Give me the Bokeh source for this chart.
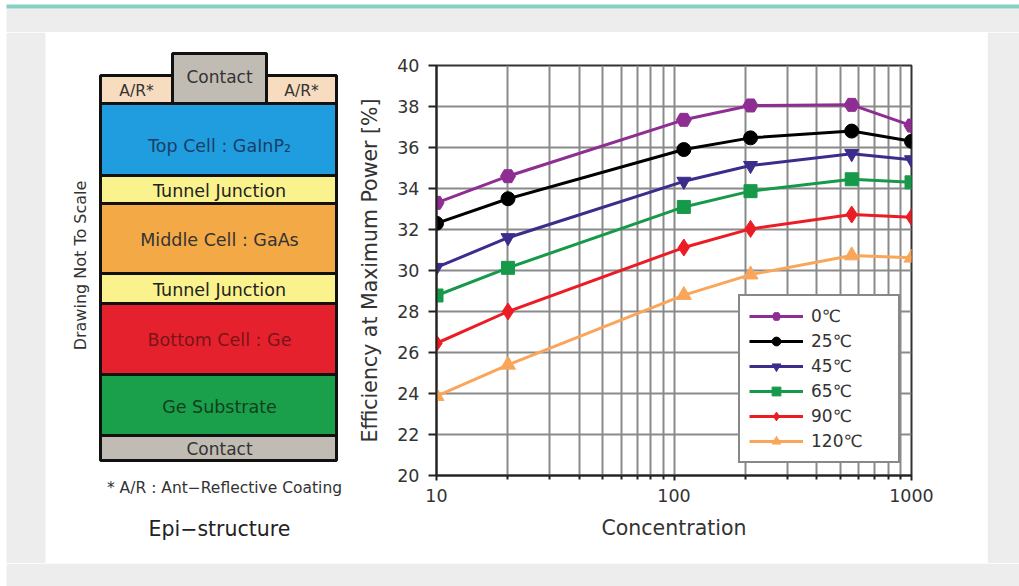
from bokeh.plotting import figure
from bokeh.models import Range1d, FixedTicker, PrintfTickFormatter, Legend, LegendItem
from bokeh.layouts import row, column
from bokeh.core.properties import value
from bokeh.embed import file_html
from bokeh.resources import INLINE
import math

# ---------------- data ----------------
concentration = [10, 20, 110, 210, 560, 1000]
temperatures = ["0℃", "25℃", "45℃", "65℃", "90℃", "120℃"]
eff_0 = [33.3, 34.6, 37.35, 38.05, 38.08, 37.07]
eff_25 = [32.3, 33.5, 35.9, 36.47, 36.8, 36.3]
eff_45 = [30.15, 31.6, 34.35, 35.12, 35.7, 35.4]
eff_65 = [28.78, 30.13, 33.1, 33.87, 34.45, 34.3]
eff_90 = [26.45, 28.0, 31.12, 32.03, 32.73, 32.6]
eff_120 = [23.87, 25.4, 28.8, 29.8, 30.73, 30.62]
series = [eff_0, eff_25, eff_45, eff_65, eff_90, eff_120]

x_ticks = [10, 100, 1000]
x_minor_ticks = [20, 30, 40, 50, 60, 70, 80, 90, 200, 300, 400, 500, 600, 700, 800, 900]
y_ticks = [20, 22, 24, 26, 28, 30, 32, 34, 36, 38, 40]

layer_labels = ["Contact", "A/R*", "A/R*", "Top Cell : GaInP₂", "Tunnel Junction",
                "Middle Cell : GaAs", "Tunnel Junction", "Bottom Cell : Ge",
                "Ge Substrate", "Contact"]

# ---------------- styles ----------------
FONT = "DejaVu Sans"
GRAY = "#EDEDED"
TEAL = "#86CFC1"
colors = ["#8E2E92", "#000000", "#3A2D8C", "#17994A", "#EC1C24", "#F9A65A"]
markers = ["hex", "circle", "inverted_triangle", "square", "diamond", "triangle"]
msizes = [15, 14, 14, 13, 17, 15]

layer_fill = ["#C1BCB3", "#F8DCBF", "#F8DCBF", "#1F9DDE", "#FAF28C", "#F4A947",
              "#FAF28C", "#E6212E", "#1AA04B", "#C1BCB3"]
layer_text_color = ["#333333", "#333333", "#333333", "#1B3E66", "#222222", "#333333",
                    "#222222", "#7A1418", "#123F1E", "#333333"]
layer_left = [172, 100, 266, 100, 100, 100, 100, 100, 100, 100]
layer_right = [266, 172, 336, 336, 336, 336, 336, 336, 336, 336]
layer_top = [53, 75, 75, 103, 175, 203, 273, 303, 374, 435]
layer_bottom = [103, 103, 103, 175, 203, 273, 303, 374, 435, 460]
text_x = [219, 136, 301, 219, 219, 219, 219, 219, 219, 219]
text_y = [76, 90, 90, 145, 190, 239, 289, 339, 406, 448]
text_size = ["17px", "15.5px", "15.5px", "17.5px", "17.5px", "17.5px", "17.5px",
             "17.5px", "17.5px", "17px"]


def base_fig(w, h, x0, x1, y0, y1):
    f = figure(width=w, height=h, x_range=Range1d(x0, x1), y_range=Range1d(y1, y0),
               x_axis_location=None, y_axis_location=None, toolbar_location=None,
               output_backend="svg", min_border=0, outline_line_color=None,
               background_fill_color="white", border_fill_color="white",
               frame_align=False)
    f.grid.visible = False
    return f


# top strip (page y 0..32)
top = base_fig(1019, 32, 0, 1019, 0, 32)
top.quad(left=[6], right=[1019], top=[8], bottom=[32], fill_color=GRAY, line_color=None)
top.quad(left=[6], right=[1019], top=[4], bottom=[8], fill_color=TEAL, line_color=None)

# bottom strip (page y 563..586)
bottom = base_fig(1019, 23, 0, 1019, 563, 586)
bottom.quad(left=[6], right=[1019], top=[563], bottom=[586], fill_color=GRAY, line_color=None)

# right strip (page x 987..1019)
right = base_fig(32, 531, 987, 1019, 32, 563)
right.quad(left=[987], right=[1019], top=[32], bottom=[563], fill_color=GRAY, line_color=None)

# ---------------- left drawing (page x 0..355, y 32..563) ----------------
L = base_fig(355, 531, 0, 355, 32, 563)
L.quad(left=[6], right=[45], top=[32], bottom=[563], fill_color=GRAY, line_color=None)
L.quad(left=layer_left, right=layer_right, top=layer_top, bottom=layer_bottom,
       fill_color=layer_fill, line_color="#111111", line_width=3)
for i, lab in enumerate(layer_labels):
    L.text(x=[text_x[i]], y=[text_y[i]], text=[lab], text_align="center",
           text_baseline="middle", text_font=value(FONT), text_font_size=text_size[i],
           text_color=layer_text_color[i])
L.text(x=[80], y=[265], text=["Drawing Not To Scale"], angle=math.pi / 2,
       text_align="center", text_baseline="middle", text_font=value(FONT),
       text_font_size="16px", text_color="#333333")
L.text(x=[224], y=[487], text=["* A/R : Ant−Reflective Coating"], text_align="center",
       text_baseline="middle", text_font=value(FONT), text_font_size="15.5px",
       text_color="#333333")
L.text(x=[219], y=[528], text=["Epi−structure"], text_align="center",
       text_baseline="middle", text_font=value(FONT), text_font_size="20.5px",
       text_color="#222222")

# ---------------- chart (page x 355..987, y 32..563) ----------------
p = figure(width=632, height=531, x_axis_type="log", x_range=Range1d(10, 1000),
           y_range=Range1d(20, 40), toolbar_location=None, output_backend="svg",
           min_border_left=80, min_border_right=76, min_border_top=33, min_border_bottom=88,
           background_fill_color="white", border_fill_color="white",
           outline_line_color="#333333", outline_line_width=2, frame_align=False)

xt = FixedTicker(ticks=x_ticks, minor_ticks=x_minor_ticks)
yt = FixedTicker(ticks=y_ticks)
p.xaxis.ticker = xt
p.yaxis.ticker = yt
p.xgrid.ticker = xt
p.ygrid.ticker = yt
p.xaxis.formatter = PrintfTickFormatter(format="%d")

GRID = "#8A8A8A"
p.xgrid.grid_line_color = GRID
p.xgrid.grid_line_width = 2
p.xgrid.minor_grid_line_color = GRID
p.xgrid.minor_grid_line_width = 2
p.ygrid.grid_line_color = GRID
p.ygrid.grid_line_width = 2

for ax in (p.xaxis, p.yaxis):
    ax.axis_line_color = "#222222"
    ax.axis_line_width = 2
    ax.major_tick_line_color = "#222222"
    ax.major_tick_line_width = 2
    ax.minor_tick_line_color = "#222222"
    ax.minor_tick_line_width = 2
    ax.major_label_text_font = FONT
    ax.major_label_text_font_size = "17.5px"
    ax.major_label_text_color = "#333333"
    ax.axis_label_text_font = FONT
    ax.axis_label_text_font_size = "20.5px"
    ax.axis_label_text_font_style = "normal"
    ax.axis_label_text_color = "#333333"

p.xaxis.axis_label = "Concentration"
p.yaxis.axis_label = "Efficiency at Maximum Power [%]"
p.xaxis.major_tick_in = 0
p.xaxis.major_tick_out = 5
p.xaxis.minor_tick_in = 0
p.xaxis.minor_tick_out = 4
p.xaxis.major_label_standoff = 8
p.xaxis.axis_label_standoff = 11
p.yaxis.major_tick_in = 0
p.yaxis.major_tick_out = 8
p.yaxis.minor_tick_line_color = None
p.yaxis.major_label_standoff = 9
p.yaxis.axis_label_standoff = 12

items = []
for i, ys in enumerate(series):
    ln = p.line(concentration, ys, line_color=colors[i], line_width=3)
    sc = p.scatter(concentration, ys, marker=markers[i], size=msizes[i],
                   fill_color=colors[i], line_color=colors[i])
    items.append(LegendItem(label=temperatures[i], renderers=[ln, sc]))

legend = Legend(items=items, location=(302, 12), margin=0, padding=9, spacing=3,
                glyph_width=54, glyph_height=22, label_standoff=8, label_width=78,
                label_height=22, border_line_color="#111111", border_line_width=2,
                background_fill_color="white", background_fill_alpha=1,
                label_text_font=FONT, label_text_font_size="17px",
                label_text_color="#333333")
p.add_layout(legend)

layout = column(top, row(L, p, right), bottom)

open("out.html", "w").write(file_html(layout, INLINE))
